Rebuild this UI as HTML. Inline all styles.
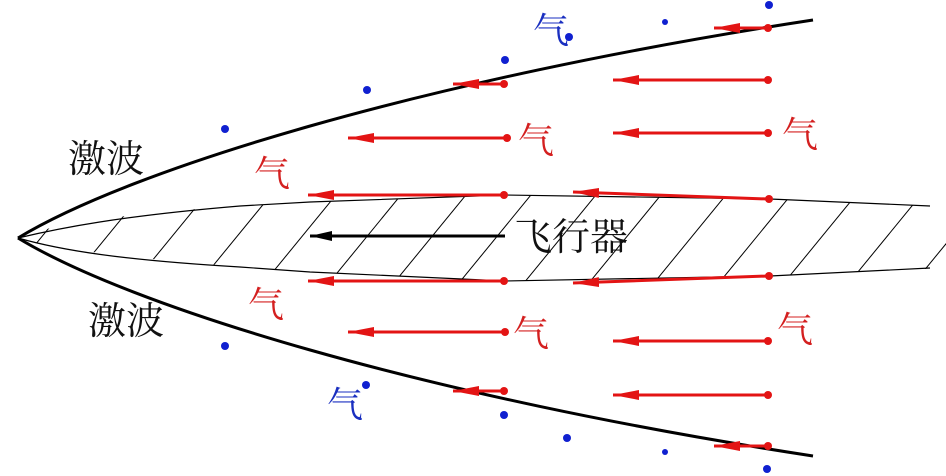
<!DOCTYPE html>
<html><head><meta charset="utf-8"><style>
html,body{margin:0;padding:0;background:#fff;width:946px;height:476px;overflow:hidden}
</style></head><body>
<svg width="946" height="476" viewBox="0 0 946 476" xmlns="http://www.w3.org/2000/svg">
<defs>
<clipPath id="b"><path d="M18,238 L60,225 L100,219 L170,211 L240,206 L310,202 L505,195 L770,199 L946,207 L946,268 L770,276 L505,281 L310,272 L240,267 L170,261 L100,253 L60,248 Z"/></clipPath>
<marker id="ar" markerWidth="28" markerHeight="12" refX="26" refY="6" orient="auto" markerUnits="userSpaceOnUse"><path d="M0,1 L26,6 L0,11 Z" fill="#e31414"/></marker>
<marker id="ab" markerWidth="24" markerHeight="12" refX="22" refY="6" orient="auto" markerUnits="userSpaceOnUse"><path d="M0,1 L22,6 L0,11 Z" fill="#000"/></marker>
</defs>
<g clip-path="url(#b)" stroke="#000" stroke-width="1">
<line x1="-10" y1="300" x2="80" y2="190"/><line x1="55" y1="300" x2="145" y2="190"/><line x1="120" y1="300" x2="210" y2="190"/><line x1="185" y1="300" x2="275" y2="190"/><line x1="250" y1="300" x2="340" y2="190"/><line x1="315" y1="300" x2="405" y2="190"/><line x1="380" y1="300" x2="470" y2="190"/><line x1="445" y1="300" x2="535" y2="190"/><line x1="510" y1="300" x2="600" y2="190"/><line x1="575" y1="300" x2="665" y2="190"/><line x1="640" y1="300" x2="730" y2="190"/><line x1="705" y1="300" x2="795" y2="190"/><line x1="770" y1="300" x2="860" y2="190"/><line x1="835" y1="300" x2="925" y2="190"/><line x1="900" y1="300" x2="990" y2="190"/>
</g>
<path d="M18,238 C60,228 120,216 240,206 L310,202 L505,195 L770,199 L930,206" fill="none" stroke="#000" stroke-width="1.2"/>
<path d="M18,238 C60,250 120,260 240,267 L310,272 L505,281 L770,276 L930,268" fill="none" stroke="#000" stroke-width="1.2"/>
<path d="M18,238 C130,170 420,80 813,20" fill="none" stroke="#000" stroke-width="3"/>
<path d="M18,238 C130,306 420,396 813,456" fill="none" stroke="#000" stroke-width="3"/>
<line x1="505" y1="236" x2="310" y2="236" stroke="#000" stroke-width="3" marker-end="url(#ab)"/>
<g stroke="#e31414" stroke-width="3" fill="#e31414">
<line x1="768" y1="28" x2="714" y2="28" marker-end="url(#ar)"/>
<line x1="504" y1="84" x2="453" y2="84" marker-end="url(#ar)"/>
<line x1="768" y1="80" x2="613" y2="80" marker-end="url(#ar)"/>
<line x1="504" y1="138" x2="348" y2="138" marker-end="url(#ar)"/>
<line x1="768" y1="133" x2="613" y2="133" marker-end="url(#ar)"/>
<line x1="504" y1="195" x2="308" y2="195" marker-end="url(#ar)"/>
<line x1="768" y1="199" x2="573" y2="192" marker-end="url(#ar)"/>
<line x1="504" y1="281" x2="308" y2="281" marker-end="url(#ar)"/>
<line x1="768" y1="276" x2="573" y2="283" marker-end="url(#ar)"/>
<line x1="504" y1="332" x2="348" y2="332" marker-end="url(#ar)"/>
<line x1="768" y1="341" x2="613" y2="341" marker-end="url(#ar)"/>
<line x1="504" y1="391" x2="453" y2="391" marker-end="url(#ar)"/>
<line x1="768" y1="395" x2="613" y2="395" marker-end="url(#ar)"/>
<line x1="768" y1="446" x2="714" y2="446" marker-end="url(#ar)"/>
<g stroke="none">
<circle cx="768" cy="28" r="4"/><circle cx="504" cy="84" r="4"/><circle cx="768" cy="80" r="4"/><circle cx="507" cy="138" r="4"/><circle cx="768" cy="133" r="4"/><circle cx="504" cy="195" r="4"/><circle cx="769" cy="199" r="4"/><circle cx="504" cy="281" r="4"/><circle cx="769" cy="276" r="4"/><circle cx="505" cy="332" r="4"/><circle cx="768" cy="341" r="4"/><circle cx="504" cy="391" r="4"/><circle cx="768" cy="395" r="4"/><circle cx="768" cy="446" r="4"/>
</g></g>
<g fill="#1020d0">
<circle cx="225" cy="129" r="4"/><circle cx="367" cy="90" r="4"/><circle cx="505" cy="60" r="4"/><circle cx="569" cy="37" r="4"/><circle cx="665" cy="22" r="3"/><circle cx="769" cy="5" r="4"/>
<circle cx="225" cy="346" r="4"/><circle cx="366" cy="385" r="4"/><circle cx="504" cy="415" r="4"/><circle cx="567" cy="438" r="4"/><circle cx="665" cy="452" r="3"/><circle cx="767" cy="469" r="4"/>
</g>
<g font-family="'Liberation Serif','Noto Serif CJK SC','Noto Sans CJK SC',serif">
<text x="68" y="172" font-size="38" fill="#111">激波</text>
<text x="88" y="334" font-size="38" fill="#111">激波</text>
<text x="514" y="250" font-size="38" fill="#111">飞行器</text>
<g font-size="36" fill="#d42020">
<text x="254" y="186">气</text><text x="518" y="153">气</text><text x="782" y="147">气</text>
<text x="248" y="317">气</text><text x="513" y="346">气</text><text x="777" y="342">气</text>
</g>
<g font-size="36" fill="#1a2fc0">
<text x="533" y="43">气</text><text x="327" y="417">气</text>
</g>
</g>
</svg>
</body></html>
